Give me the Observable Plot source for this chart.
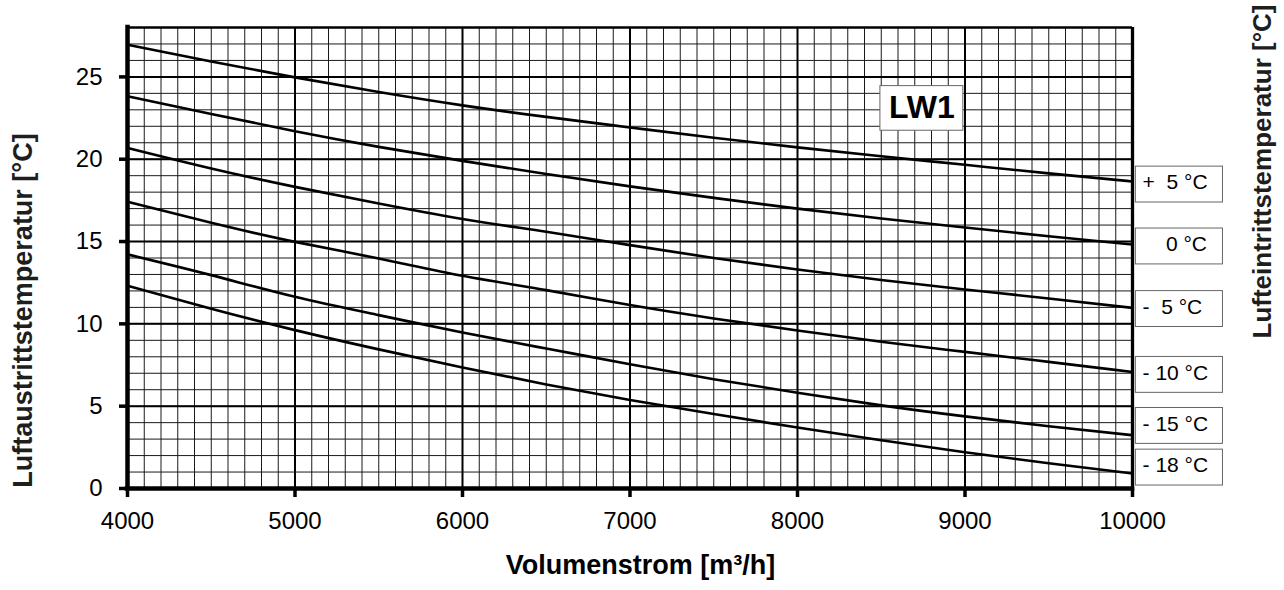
<!DOCTYPE html>
<html>
<head>
<meta charset="utf-8">
<script src="https://cdn.jsdelivr.net/npm/d3@7"></script>
<script src="https://cdn.jsdelivr.net/npm/@observablehq/plot@0.6"></script>
<style>
  html, body { margin: 0; padding: 0; background: #fff; }
  #chart svg { display: block; overflow: visible; }
</style>
</head>
<body>
<div id="chart"></div>
<script>
// ---- data ----
const volumes = [4000, 4500, 5000, 5500, 6000, 6500, 7000, 7500, 8000, 8500, 9000, 9500, 10000];
const seriesNames = ["+5", "0", "-5", "-10", "-15", "-18"];
const tPlus5  = [26.95, 25.93, 24.97, 24.08, 23.27, 22.57, 21.93, 21.30, 20.72, 20.18, 19.66, 19.14, 18.65];
const tZero   = [23.83, 22.75, 21.70, 20.75, 19.90, 19.10, 18.35, 17.65, 17.00, 16.40, 15.85, 15.32, 14.82];
const tMinus5 = [20.69, 19.44, 18.32, 17.31, 16.37, 15.59, 14.78, 14.00, 13.30, 12.66, 12.09, 11.54, 10.97];
const tMinus10 = [17.41, 16.14, 14.98, 13.97, 12.92, 12.05, 11.14, 10.33, 9.60, 8.91, 8.30, 7.69, 7.08];
const tMinus15 = [14.22, 12.96, 11.64, 10.53, 9.47, 8.50, 7.55, 6.64, 5.82, 5.05, 4.38, 3.78, 3.24];
const tMinus18 = [12.31, 10.92, 9.62, 8.45, 7.35, 6.32, 5.38, 4.52, 3.70, 2.93, 2.20, 1.53, 0.91];
const seriesValues = [tPlus5, tZero, tMinus5, tMinus10, tMinus15, tMinus18];

const legendLabels = ["+\u00a0\u00a05 °C", "\u00a0\u00a0\u00a0\u00a00 °C", "-\u00a0\u00a05 °C", "- 10 °C", "- 15 °C", "- 18 °C"];
const legendY = [18.46, 14.70, 10.90, 6.90, 3.80, 1.27];

const xMajorTicks = [4000, 5000, 6000, 7000, 8000, 9000, 10000];
const yMajorTicks = [0, 5, 10, 15, 20, 25];
const xMinorGrid = d3.range(4000, 10001, 100);
const yMinorGrid = d3.range(0, 29, 1);

const xTitle = "Volumenstrom [m³/h]";
const yTitle = "Luftaustrittstemperatur [°C]";
const y2Title = "Lufteintrittstemperatur [°C]";
const boxTitle = "LW1";

// ---- tables built from the arrays ----
const rows = seriesNames.flatMap((s, i) => volumes.map((v, j) => ({s, v, t: seriesValues[i][j]})));
const legendRows = legendLabels.map((label, i) => ({label, y: legendY[i]}));
const lw1 = [{x1: 8495, x2: 8990, y1: 21.73, y2: 24.44, label: boxTitle, x: 8742, y: 23.1}];
const boxHalf = 1.09;

const FONT = "'Liberation Sans', Arial, Helvetica, sans-serif";

const chart = Plot.plot({
  width: 1284,
  height: 590,
  marginLeft: 127,
  marginRight: 152,
  marginTop: 27,
  marginBottom: 102,
  x: {domain: [4000, 10000]},
  y: {domain: [0, 28]},
  style: {fontFamily: FONT, background: "#fff", color: "#000", overflow: "visible"},
  marks: [
    // grid
    Plot.ruleX(xMinorGrid, {stroke: "#1a1a1a", strokeWidth: 1}),
    Plot.ruleY(yMinorGrid, {stroke: "#1a1a1a", strokeWidth: 1}),
    Plot.ruleX(xMajorTicks, {stroke: "#000", strokeWidth: 2}),
    Plot.ruleY(yMajorTicks, {stroke: "#000", strokeWidth: 2}),
    // curves
    Plot.line(rows, {x: "v", y: "t", z: "s", stroke: "#000", strokeWidth: 2.6, curve: "natural"}),
    // LW1 box
    Plot.rect(lw1, {x1: "x1", x2: "x2", y1: "y1", y2: "y2", fill: "#fff", stroke: "#666", strokeWidth: 1}),
    Plot.text(lw1, {x: "x", y: "y", text: "label", fontSize: 32, fontWeight: "bold", fill: "#000", lineAnchor: "middle"}),
    // frame
    Plot.ruleY([28], {stroke: "#000", strokeWidth: 2.7}),
    Plot.ruleX([10000], {stroke: "#000", strokeWidth: 3.3}),
    Plot.ruleY([0], {stroke: "#000", strokeWidth: 4.5, strokeLinecap: "square"}),
    Plot.ruleX([4000], {stroke: "#000", strokeWidth: 4.5, strokeLinecap: "square"}),
    // axes
    Plot.axisX({ticks: xMajorTicks, tickFormat: d => String(d), tickSize: 9, tickPadding: 14,
      fontSize: 24, strokeWidth: 3.5, label: null, fill: "#000"}),
    Plot.axisY({ticks: yMajorTicks, tickFormat: d => String(d), tickSize: 8, tickPadding: 17,
      fontSize: 24, strokeWidth: 3.5, label: null, fill: "#000"}),
    // legend boxes at right
    Plot.rect(legendRows, {x1: 10020, x2: 10540, y1: d => d.y - boxHalf, y2: d => d.y + boxHalf,
      fill: "#fff", stroke: "#666", strokeWidth: 1}),
    Plot.text(legendRows, {x: 10060, y: "y", text: "label", textAnchor: "start", lineAnchor: "middle",
      fontSize: 21, fill: "#000", dy: -2}),
    // titles
    Plot.text([xTitle], {frameAnchor: "bottom", dx: 10.5, dy: 77, fontSize: 27, fontWeight: "bold",
      fill: "#000", textAnchor: "middle", lineAnchor: "middle"}),
    Plot.text([yTitle], {frameAnchor: "left", dx: -104.5, dy: 52.5, rotate: -90, fontSize: 27,
      fontWeight: "bold", fill: "#1e1e1e", textAnchor: "middle", lineAnchor: "middle"}),
    Plot.text([y2Title], {frameAnchor: "right", dx: 130, dy: -86.5, rotate: -90, fontSize: 26,
      fontWeight: "bold", fill: "#1e1e1e", textAnchor: "middle", lineAnchor: "middle"})
  ]
});

document.getElementById("chart").appendChild(chart);
</script>
</body>
</html>
